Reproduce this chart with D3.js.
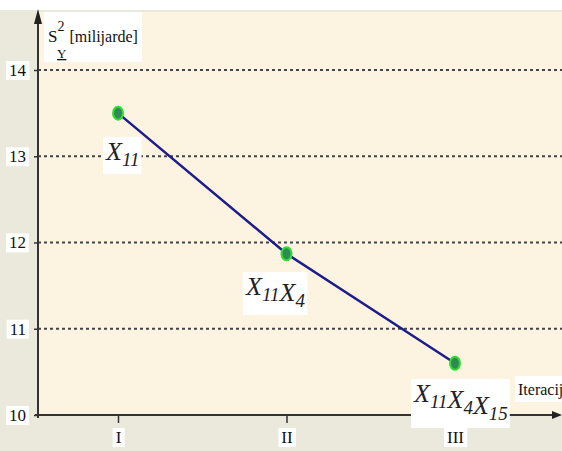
<!DOCTYPE html>
<html>
<head>
<meta charset="utf-8">
<script src="https://cdn.jsdelivr.net/npm/d3@7"></script>
<style>
  html, body { margin: 0; padding: 0; background: #fff; }
  #chart { width: 562px; height: 451px; }
  svg text { font-family: "Liberation Serif", "DejaVu Serif", serif !important; }
</style>
</head>
<body>
<div id="chart"></div>
<script>
const iterations = ["I", "II", "III"];
const variance = [13.5, 11.87, 10.6];
const pointLabels = [["11"], ["11", "4"], ["11", "4", "15"]];
const yTicks = [10, 11, 12, 13, 14];

function draw() {
  const w = 562, h = 451;
  const svg = d3.select("#chart").append("svg")
    .attr("width", w).attr("height", h)
    .style("font-family", "Liberation Serif, serif");

  // backgrounds
  svg.append("rect").attr("x", 0).attr("y", 10).attr("width", w).attr("height", h - 10)
    .attr("fill", "#ebe9dc");
  svg.append("rect").attr("x", 38).attr("y", 12).attr("width", w - 38).attr("height", 403)
    .attr("fill", "#fcf3e1");

  const x = d3.scalePoint().domain(iterations).range([118, 455]);
  const y = d3.scaleLinear().domain([10, 14]).range([415, 70]);

  // grid
  svg.append("g").selectAll("line")
    .data(yTicks.filter(d => d > 10))
    .join("line")
    .attr("x1", 38).attr("x2", w)
    .attr("y1", d => y(d)).attr("y2", d => y(d))
    .attr("stroke", "#444").attr("stroke-width", 2)
    .attr("stroke-dasharray", "3,3");

  // y axis
  const yAxis = svg.append("g").attr("transform", "translate(38,0)")
    .call(d3.axisLeft(y).tickValues(yTicks).tickFormat(d3.format("d"))
      .tickSize(4).tickSizeOuter(0).tickPadding(8));
  yAxis.attr("font-family", null);
  yAxis.select(".domain").remove();
  yAxis.selectAll(".tick line").attr("stroke", "#333").attr("stroke-width", 1.5);
  yAxis.selectAll(".tick text")
    .attr("font-size", 17).attr("fill", "#111")
    .each(function () {
      const bb = this.getBBox();
      d3.select(this.parentNode).insert("rect", "text")
        .attr("x", bb.x - 3).attr("y", bb.y).attr("width", bb.width + 6).attr("height", bb.height)
        .attr("fill", "#fff");
    });

  svg.append("line").attr("x1", 38).attr("x2", 38).attr("y1", 14).attr("y2", 418)
    .attr("stroke", "#333").attr("stroke-width", 2);
  svg.append("path").attr("d", "M38,9 L34,24 L42,24 Z").attr("fill", "#222");

  // x axis
  const xAxis = svg.append("g").attr("transform", "translate(0,415)")
    .call(d3.axisBottom(x).tickSize(8).tickSizeOuter(0).tickPadding(8));
  xAxis.attr("font-family", null);
  xAxis.select(".domain").remove();
  xAxis.selectAll(".tick line").attr("stroke", "#333").attr("stroke-width", 1.5);
  xAxis.selectAll(".tick text")
    .attr("font-size", 17).attr("fill", "#111")
    .each(function () {
      const bb = this.getBBox();
      d3.select(this.parentNode).insert("rect", "text")
        .attr("x", bb.x - 3).attr("y", bb.y).attr("width", bb.width + 6).attr("height", bb.height)
        .attr("fill", "#fff");
    });
  svg.append("line").attr("x1", 35).attr("x2", w - 4).attr("y1", 415).attr("y2", 415)
    .attr("stroke", "#333").attr("stroke-width", 2);
  svg.append("path").attr("d", `M${w},415 L${w - 10},411 L${w - 10},419 Z`).attr("fill", "#222");

  // axis titles
  const yt = svg.append("g");
  yt.append("rect").attr("x", 44).attr("y", 12).attr("width", 98).attr("height", 50).attr("fill", "#fff");
  const ytt = yt.append("text").attr("x", 48).attr("y", 42).attr("font-size", 17).attr("fill", "#111");
  ytt.append("tspan").text("S");
  ytt.append("tspan").attr("dy", -11).attr("dx", 0).attr("font-size", 14).text("2");
  ytt.append("tspan").attr("dy", 11).attr("dx", 5).attr("font-size", 16).text("[milijarde]");
  yt.append("text").attr("x", 57).attr("y", 58).attr("font-size", 13).attr("fill", "#111")
    .attr("text-decoration", "underline").text("Y");

  const xt = svg.append("g");
  xt.append("rect").attr("x", 515).attr("y", 376).attr("width", 47).attr("height", 26).attr("fill", "#fff");
  xt.append("text").attr("x", 518).attr("y", 395).attr("font-size", 16).attr("fill", "#111")
    .text("Iteracij");

  // line
  const pts = iterations.map((d, i) => [x(d), y(variance[i])]);
  svg.append("path").attr("d", d3.line()(pts))
    .attr("fill", "none").attr("stroke", "#1c1c8a").attr("stroke-width", 2.5);

  // points
  svg.append("g").selectAll("ellipse")
    .data(pts).join("ellipse")
    .attr("cx", d => d[0]).attr("cy", d => d[1])
    .attr("rx", 5).attr("ry", 6.5)
    .attr("fill", "#2e8b57").attr("stroke", "#2ee02e").attr("stroke-width", 2);

  // point labels
  const labelPos = [[106, 160], [246, 295], [414, 402]];
  pointLabels.forEach((subs, i) => {
    const g = svg.append("g");
    const t = g.append("text")
      .attr("x", labelPos[i][0]).attr("y", labelPos[i][1])
      .attr("font-size", 26).attr("font-style", "italic").attr("fill", "#222");
    subs.forEach(s => {
      t.append("tspan").text("X");
      t.append("tspan").attr("dy", 6).attr("font-size", 19).text(s);
      t.append("tspan").attr("dy", -6).attr("font-size", 19).text("");
    });
    const bb = t.node().getBBox();
    g.insert("rect", "text")
      .attr("x", bb.x - 2).attr("y", bb.y).attr("width", bb.width + 4).attr("height", bb.height + 4)
      .attr("fill", "#fff");
  });
}

draw();
</script>
</body>
</html>
